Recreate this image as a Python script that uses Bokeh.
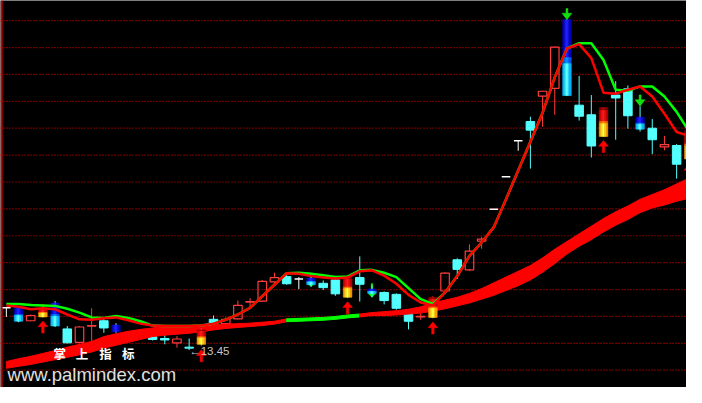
import numpy as np
from bokeh.plotting import figure
from bokeh.models import Range1d, Span
from bokeh.core.properties import value
from bokeh.embed import file_html
from bokeh.resources import INLINE

# ---------------- data ----------------
opens = [14.33, 14.33, 14.06, 14.14, 14.43, 13.89, 13.61, 13.95, 14.06, 13.97,
         13.81, 13.73, 13.73, 13.69, 13.60, 13.51, 13.57, 14.09, 14.00, 14.10,
         14.45, 14.47, 14.87, 14.98, 14.93, 14.95, 14.84, 14.91, 14.55, 14.96,
         14.72, 14.65, 14.61, 14.21, 14.14, 14.13, 14.68, 15.33, 15.12, 15.72,
         16.38, 17.06, 17.81, 18.21, 18.74, 18.90, 20.33, 18.55, 18.35, 17.90,
         18.76, 18.89, 18.30, 18.07, 17.68, 17.71, 17.43]
highs = [14.33, 14.35, 14.19, 14.41, 14.47, 13.95, 13.95, 14.32, 14.11, 14.01,
         13.83, 13.85, 13.77, 13.80, 13.74, 13.69, 13.91, 14.17, 14.13, 14.48,
         14.53, 14.91, 15.06, 15.05, 14.97, 15.02, 14.90, 14.93, 15.00, 15.40,
         14.80, 14.67, 14.63, 14.23, 14.23, 14.57, 15.07, 15.36, 15.65, 15.81,
         16.38, 17.06, 17.81, 18.31, 18.85, 19.77, 20.33, 19.16, 18.76, 18.51,
         19.05, 18.96, 18.53, 18.26, 17.91, 17.74, 18.07]
lows = [14.14, 14.03, 14.05, 14.13, 13.93, 13.59, 13.59, 13.63, 13.81, 13.81,
        13.69, 13.69, 13.65, 13.57, 13.50, 13.45, 13.53, 13.89, 13.97, 14.09,
        14.31, 14.45, 14.85, 14.81, 14.72, 14.77, 14.70, 14.58, 14.53, 14.46,
        14.55, 14.40, 14.29, 13.88, 14.08, 14.11, 14.67, 14.93, 15.10, 15.56,
        16.38, 17.06, 17.60, 17.23, 18.10, 18.35, 18.75, 18.23, 17.46, 17.89,
        17.83, 18.06, 18.00, 17.53, 17.61, 17.02, 17.39]
closes = [14.33, 14.05, 14.17, 14.32, 13.95, 13.60, 13.93, 13.96, 13.91, 13.83,
          13.73, 13.81, 13.67, 13.66, 13.68, 13.49, 13.87, 13.93, 14.09, 14.38,
          14.46, 14.88, 14.96, 14.83, 14.93, 14.81, 14.75, 14.62, 14.96, 14.82,
          14.63, 14.48, 14.32, 14.05, 14.15, 14.55, 15.05, 15.13, 15.51, 15.76,
          16.38, 17.06, 17.81, 18.03, 18.84, 19.76, 18.75, 18.32, 17.70, 18.50,
          18.70, 18.33, 18.05, 17.83, 17.73, 17.32, 18.03]

ma_red = [14.38, 14.35, 14.30, 14.32, 14.30, 14.19, 14.09, 14.08, 14.11, 14.13,
          14.07, 14.00, 13.96, 13.95, 13.95, 13.95, 13.96, 14.00, 14.08, 14.19,
          14.33, 14.57, 14.81, 15.05, 15.04, 14.99, 14.96, 14.94, 14.96, 15.09,
          15.11, 15.00, 14.83, 14.60, 14.44, 14.38, 14.65, 14.99, 15.41, 15.69,
          16.01, 16.59, 17.19, 17.79, 18.39, 19.13, 19.73, 19.82, 19.53, 18.81,
          18.79, 18.87, 18.94, 18.73, 18.37, 17.99, 17.91]
ma_green = [14.41, 14.41, 14.39, 14.38, 14.37, 14.31, 14.23, 14.13, 14.12, 14.16,
            14.12, 14.05, 13.96, 13.95, 13.95, 13.95, 13.96, 14.00, 14.08, 14.19,
            14.33, 14.57, 14.81, 15.05, 15.06, 15.04, 15.01, 14.97, 14.98, 15.11,
            15.12, 15.06, 14.97, 14.74, 14.51, 14.41, 14.65, 14.99, 15.41, 15.69,
            16.01, 16.59, 17.19, 17.79, 18.39, 19.13, 19.73, 19.84, 19.84, 19.49,
            18.87, 18.85, 18.94, 18.94, 18.73, 18.41, 18.01]

band_top = [13.21, 13.27, 13.32, 13.38, 13.44, 13.51, 13.57, 13.63, 13.73, 13.79,
            13.84, 13.88, 13.91, 13.95, 13.95, 13.96, 13.97, 13.98, 13.99, 14.00,
            14.01, 14.03, 14.05, 14.10, 14.11, 14.12, 14.13, 14.15, 14.18, 14.20,
            14.23, 14.25, 14.27, 14.30, 14.35, 14.43, 14.49, 14.55, 14.63, 14.73,
            14.85, 14.97, 15.09, 15.21, 15.37, 15.55, 15.71, 15.87, 16.03, 16.19,
            16.33, 16.45, 16.59, 16.69, 16.79, 16.91, 17.03]
band_bot = [13.07, 13.11, 13.15, 13.20, 13.25, 13.30, 13.35, 13.41, 13.49, 13.55,
            13.61, 13.67, 13.73, 13.76, 13.78, 13.80, 13.83, 13.87, 13.90, 13.92,
            13.94, 13.96, 13.99, 14.04, 14.05, 14.06, 14.07, 14.09, 14.12, 14.14,
            14.17, 14.17, 14.18, 14.20, 14.22, 14.26, 14.31, 14.37, 14.43, 14.51,
            14.59, 14.69, 14.79, 14.91, 15.07, 15.25, 15.45, 15.61, 15.75, 15.91,
            16.05, 16.17, 16.31, 16.41, 16.47, 16.55, 16.61]
green_band_idx = [23, 24, 25, 26, 27, 28]

yellow_idx = [3, 16, 28, 35, 49, 56]      # red/yellow signal candles (buy arrows)
blue_idx = [1, 4, 25, 30, 46, 52]         # blue/cyan signal candles
solid_blue_idx = [9]
sell_idx = [46, 52]                       # green down arrows
weak_sell_idx = [25, 30]                  # small green marks behind candles

grid_levels = [20.31, 19.75, 19.19, 18.63, 18.07, 17.51, 16.95, 16.39,
               15.83, 15.27, 14.71, 14.15, 13.59, 13.03]

watermark_cn = ["掌", "上", "指", "标"]
watermark_url = "www.palmindex.com"

# ---------------- styling ----------------
RED = "#FF0000"
RED_UP = "#FF3C3C"
CYAN = "#54FFFF"
GREEN = "#00FF00"
W = 0.7

O = np.array(opens); H = np.array(highs); L = np.array(lows); C = np.array(closes)
n = len(O)

p = figure(width=686, height=387,
           x_range=Range1d(-0.48, 55.81), y_range=Range1d(12.67, 20.73),
           output_backend="svg", toolbar_location=None, min_border=0,
           x_axis_type=None, y_axis_type=None,
           background_fill_color="black", border_fill_color="black",
           outline_line_color=None)
p.grid.visible = False

for lvl in grid_levels:
    p.add_layout(Span(location=lvl, dimension="width", line_color="#D00000",
                      line_dash="1 2", line_width=1.2, level="underlay"))

# weak sell marks (behind candles)
wx, wy = [], []
for i in weak_sell_idx:
    wx.append([i - 0.06, i + 0.06, i + 0.06, i - 0.06])
    wy.append([H[i] + 0.034, H[i] + 0.034, L[i] + 0.08, L[i] + 0.08])
    wx.append([i - 0.32, i + 0.32, i])
    wy.append([L[i] + 0.08, L[i] + 0.08, L[i]])
p.patches(wx, wy, fill_color=GREEN, line_color=GREEN, line_width=0.5)

special = set(yellow_idx) | set(blue_idx) | set(solid_blue_idx)
norm = [i for i in range(n) if i not in special]
up = np.array([i for i in norm if C[i] > O[i] + 1e-9])
dn = np.array([i for i in norm if C[i] < O[i] - 1e-9])
fl = np.array([i for i in norm if abs(C[i] - O[i]) <= 1e-9])

# down candles: filled cyan
p.segment(x0=dn, y0=H[dn], x1=dn, y1=L[dn], line_color=CYAN, line_width=1)
p.quad(left=dn - W / 2, right=dn + W / 2, top=O[dn], bottom=C[dn],
       fill_color=CYAN, line_color=CYAN, line_width=1)
# up candles: hollow red
p.segment(x0=up, y0=H[up], x1=up, y1=C[up], line_color=RED_UP, line_width=1)
p.segment(x0=up, y0=O[up], x1=up, y1=L[up], line_color=RED_UP, line_width=1)
p.quad(left=up - W / 2, right=up + W / 2, top=C[up], bottom=O[up],
       fill_alpha=0, line_color=RED_UP, line_width=1.2)
# flat candles: white
p.segment(x0=fl, y0=H[fl], x1=fl, y1=L[fl], line_color="white", line_width=1)
p.segment(x0=fl - W / 2, y0=O[fl], x1=fl + W / 2, y1=O[fl], line_color="white", line_width=1.5)

# thick band
bx, by, bc = [], [], []
for i in range(n - 1):
    bx.append([i, i + 1, i + 1, i])
    by.append([band_top[i], band_top[i + 1], band_bot[i + 1], band_bot[i]])
    bc.append(GREEN if i in green_band_idx else RED)
p.patches(bx, by, fill_color=bc, line_color=bc, line_width=1)


def hexmix(a, b, t=0.5):
    a = [int(a[k:k + 2], 16) for k in (1, 3, 5)]
    b = [int(b[k:k + 2], 16) for k in (1, 3, 5)]
    return "#%02X%02X%02X" % tuple(int(round(x + (y - x) * t)) for x, y in zip(a, b))


def gradient(ids, rows, wick_color):
    ids = np.array(ids)
    p.segment(x0=ids, y0=H[ids], x1=ids, y1=L[ids], line_color=wick_color, line_width=1)
    l, r, t, b, col = [], [], [], [], []
    fr = [0, 0.18, 0.36, 0.64, 0.82, 1.0]
    for i in ids:
        top = max(O[i], C[i]); bot = min(O[i], C[i]); hgt = top - bot
        x0 = i - W / 2
        for f0, f1, edge, mid in rows:
            cols = [edge, hexmix(edge, mid), mid, hexmix(edge, mid), edge]
            for k in range(5):
                l.append(x0 + fr[k] * W); r.append(x0 + fr[k + 1] * W)
                t.append(top - f0 * hgt); b.append(top - f1 * hgt)
                col.append(cols[k])
    p.quad(left=l, right=r, top=t, bottom=b, fill_color=col, line_color=col, line_width=0.6)


gradient(yellow_idx, [(0.00, 0.10, "#7A0000", "#B00000"),
                      (0.10, 0.48, "#C80000", "#FF1A1A"),
                      (0.48, 0.56, "#FF5A00", "#FF8C00"),
                      (0.56, 1.00, "#FFA000", "#FFFF3C")], RED_UP)
gradient(blue_idx, [(0.00, 0.50, "#0000B4", "#2020FF"),
                    (0.50, 0.58, "#0050F0", "#0090FF"),
                    (0.58, 1.00, "#00B4FF", "#5AFFFF")], CYAN)
gradient(solid_blue_idx, [(0.00, 1.00, "#0000B4", "#2020FF")], CYAN)

# moving averages
xs = np.arange(n)
p.line(xs, ma_green, line_color=GREEN, line_width=2.5)
p.line(xs, ma_red, line_color=RED, line_width=2.5)

# buy arrows (red, below candle low)
ax, ay = [], []
for i in yellow_idx:
    lo = L[i]
    ax.append([i - 0.1, i + 0.1, i + 0.1, i - 0.1])
    ay.append([lo - 0.326, lo - 0.326, lo - 0.19, lo - 0.19])
    ax.append([i - 0.4, i + 0.4, i])
    ay.append([lo - 0.194, lo - 0.194, lo - 0.074])
p.patches(ax, ay, fill_color=RED, line_color=RED, line_width=0.5)

# sell arrows (green, above candle high)
gx, gy = [], []
for i in sell_idx:
    hi = H[i]
    gx.append([i - 0.08, i + 0.08, i + 0.08, i - 0.08])
    gy.append([hi + 0.234, hi + 0.234, hi + 0.13, hi + 0.13])
    gx.append([i - 0.4, i + 0.4, i])
    gy.append([hi + 0.134, hi + 0.134, hi])
p.patches(gx, gy, fill_color="#10E010", line_color="#10E010", line_width=0.5)

# lowest-low label
imin = int(np.argmin(L))
p.text(x=[imin], y=[L[imin] - 0.03], text=["←%.2f" % L[imin]],
       text_font=value("Liberation Sans"), text_font_size="11.5px",
       text_color="#C8C8C8", text_align="left", text_baseline="middle")

# watermark
p.text(x=[4.39, 6.20, 8.14, 10.01], y=[13.38] * 4, text=watermark_cn,
       text_font=value("Noto Sans CJK SC"), text_font_size="12.5px",
       text_font_style="bold", text_color="white",
       text_align="center", text_baseline="middle")
p.text(x=[0.10], y=[12.944], text=[watermark_url],
       text_font=value("Liberation Sans"), text_font_size="18.5px",
       text_color="#E0E0E0", text_align="left", text_baseline="alphabetic")

# left border line
p.add_layout(Span(location=p.x_range.start + 0.09, dimension="height",
                  line_color="#D00000", line_width=2))

open("out.html", "w").write(file_html(p, INLINE))
